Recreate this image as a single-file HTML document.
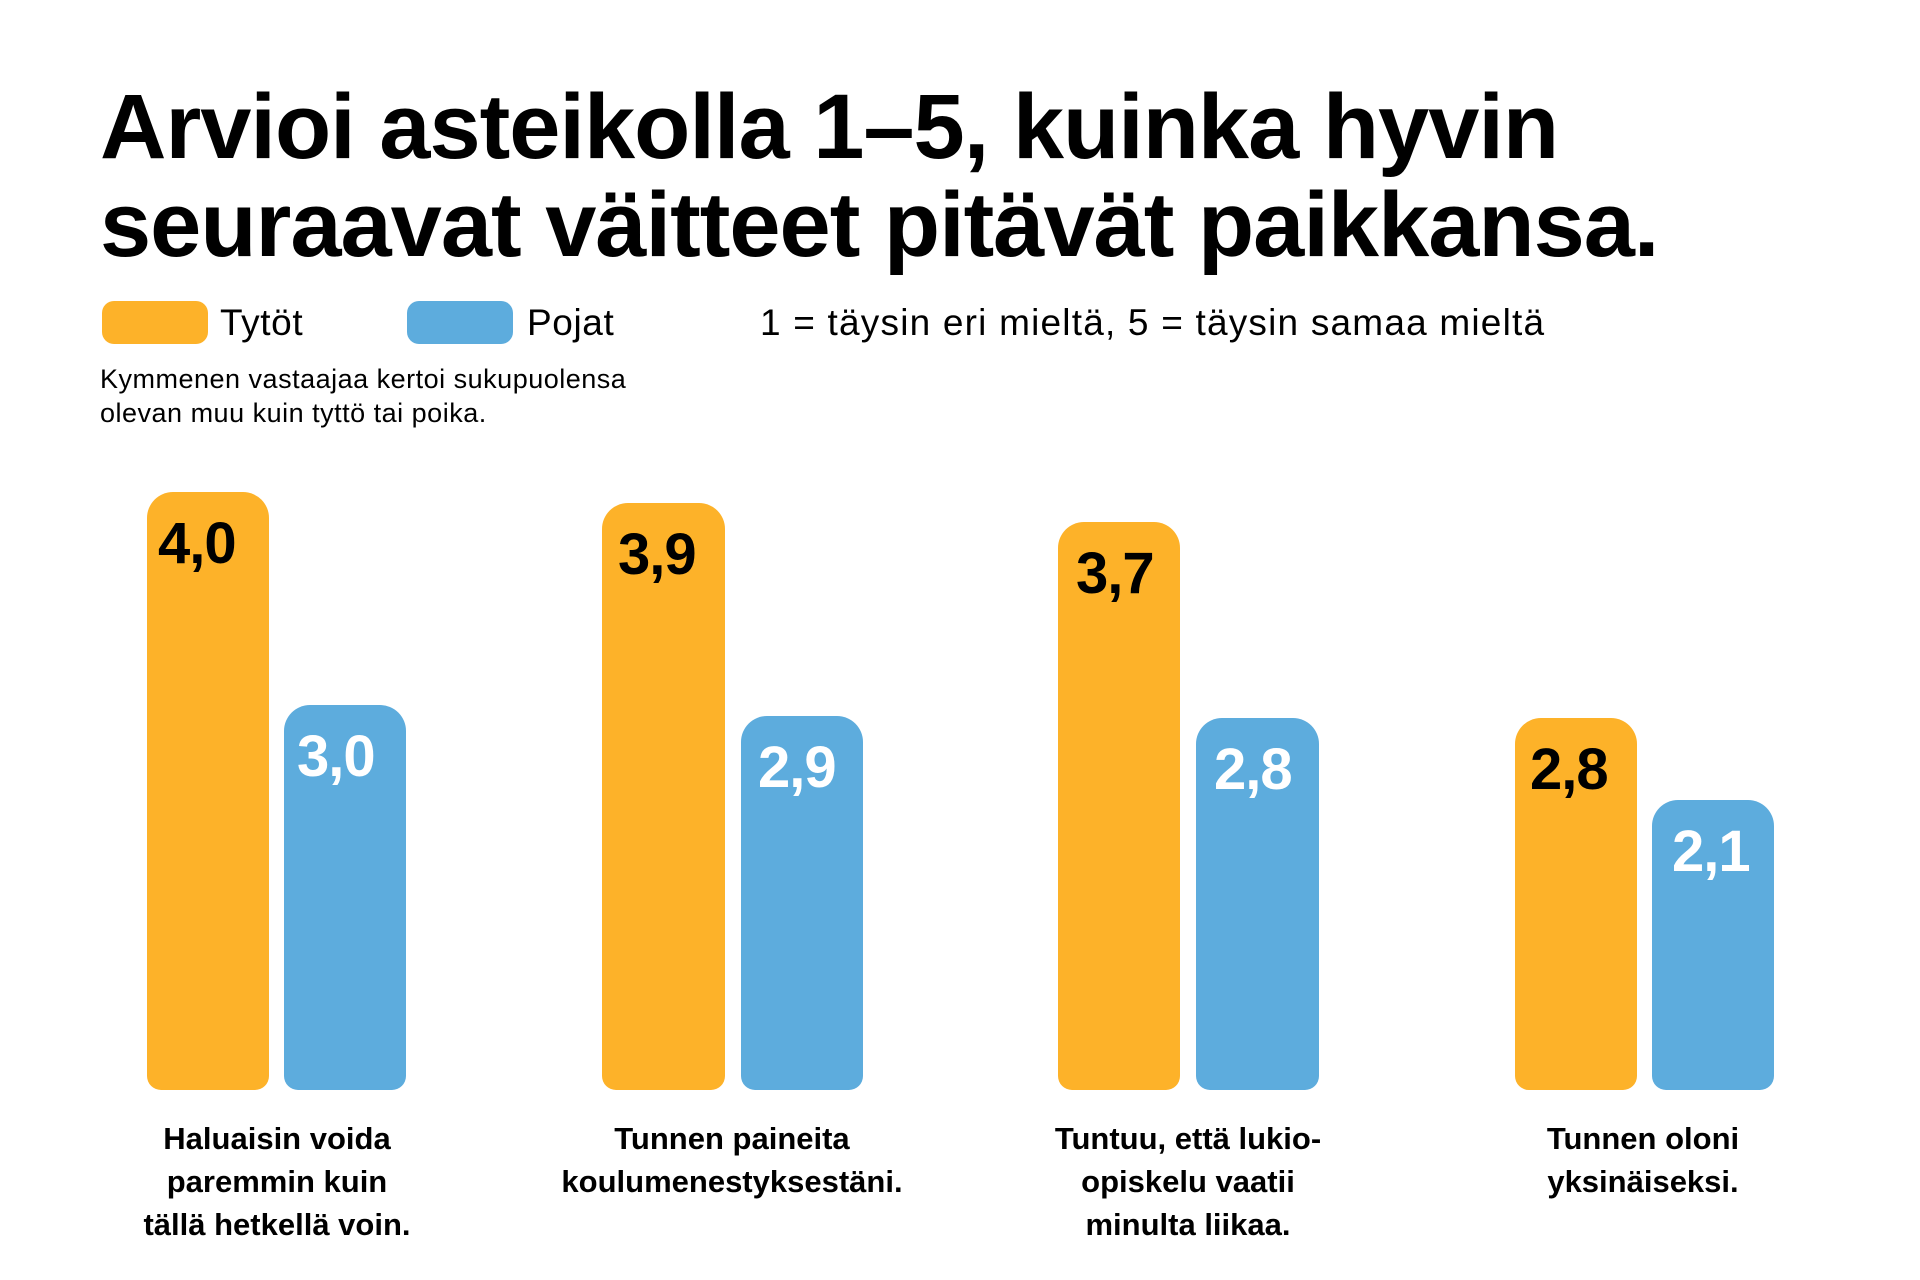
<!DOCTYPE html>
<html><head><meta charset="utf-8"><style>
body{margin:0;width:1920px;height:1280px;background:#fff;position:relative;overflow:hidden;font-family:"Liberation Sans",sans-serif;color:#000}
.t{position:absolute;left:100px;font-weight:bold;font-size:92px;line-height:98px;letter-spacing:-1px;white-space:nowrap}
.bar{position:absolute;border-radius:26px 26px 14px 14px}
.o{background:#fdb229}.b{background:#5dacdd}
.v{position:absolute;font-weight:bold;font-size:58px;letter-spacing:-1px}
.lab{position:absolute;width:400px;text-align:center;font-weight:bold;font-size:31px;line-height:43px}
.sw{position:absolute;top:301px;height:43px;width:106px;border-radius:12px}
.lt{position:absolute;top:302px;font-size:37px;letter-spacing:0.6px;white-space:nowrap}
</style></head><body>
<div class="t" style="top:78px">Arvioi asteikolla 1–5, kuinka hyvin</div>
<div class="t" style="top:176px">seuraavat väitteet pitävät paikkansa.</div>
<div class="sw o" style="left:102px"></div><div class="lt" style="left:220px">Tytöt</div>
<div class="sw b" style="left:407px"></div><div class="lt" style="left:527px">Pojat</div>
<div class="lt" style="left:760px;letter-spacing:1.2px">1 = täysin eri mieltä, 5 = täysin samaa mieltä</div>
<div style="position:absolute;left:100px;top:362px;font-size:27px;line-height:34px;letter-spacing:0.5px">Kymmenen vastaajaa kertoi sukupuolensa<br>olevan muu kuin tyttö tai poika.</div>

<div class="bar o" style="left:147px;top:492px;width:122px;height:598px"></div>
<div class="bar b" style="left:284px;top:705px;width:122px;height:385px"></div>
<div class="bar o" style="left:602px;top:503px;width:123px;height:587px"></div>
<div class="bar b" style="left:741px;top:716px;width:122px;height:374px"></div>
<div class="bar o" style="left:1058px;top:522px;width:122px;height:568px"></div>
<div class="bar b" style="left:1196px;top:718px;width:123px;height:372px"></div>
<div class="bar o" style="left:1515px;top:718px;width:122px;height:372px"></div>
<div class="bar b" style="left:1652px;top:800px;width:122px;height:290px"></div>

<div class="v" style="left:158px;top:510px">4,0</div>
<div class="v" style="left:297px;top:723px;color:#fff">3,0</div>
<div class="v" style="left:618px;top:521px">3,9</div>
<div class="v" style="left:758px;top:734px;color:#fff">2,9</div>
<div class="v" style="left:1076px;top:540px">3,7</div>
<div class="v" style="left:1214px;top:736px;color:#fff">2,8</div>
<div class="v" style="left:1530px;top:736px">2,8</div>
<div class="v" style="left:1672px;top:818px;color:#fff">2,1</div>

<div class="lab" style="left:77px;top:1117px">Haluaisin voida<br>paremmin kuin<br>tällä hetkellä voin.</div>
<div class="lab" style="left:532px;top:1117px">Tunnen paineita<br>koulumenestyksestäni.</div>
<div class="lab" style="left:988px;top:1117px">Tuntuu, että lukio-<br>opiskelu vaatii<br>minulta liikaa.</div>
<div class="lab" style="left:1443px;top:1117px">Tunnen oloni<br>yksinäiseksi.</div>
</body></html>
